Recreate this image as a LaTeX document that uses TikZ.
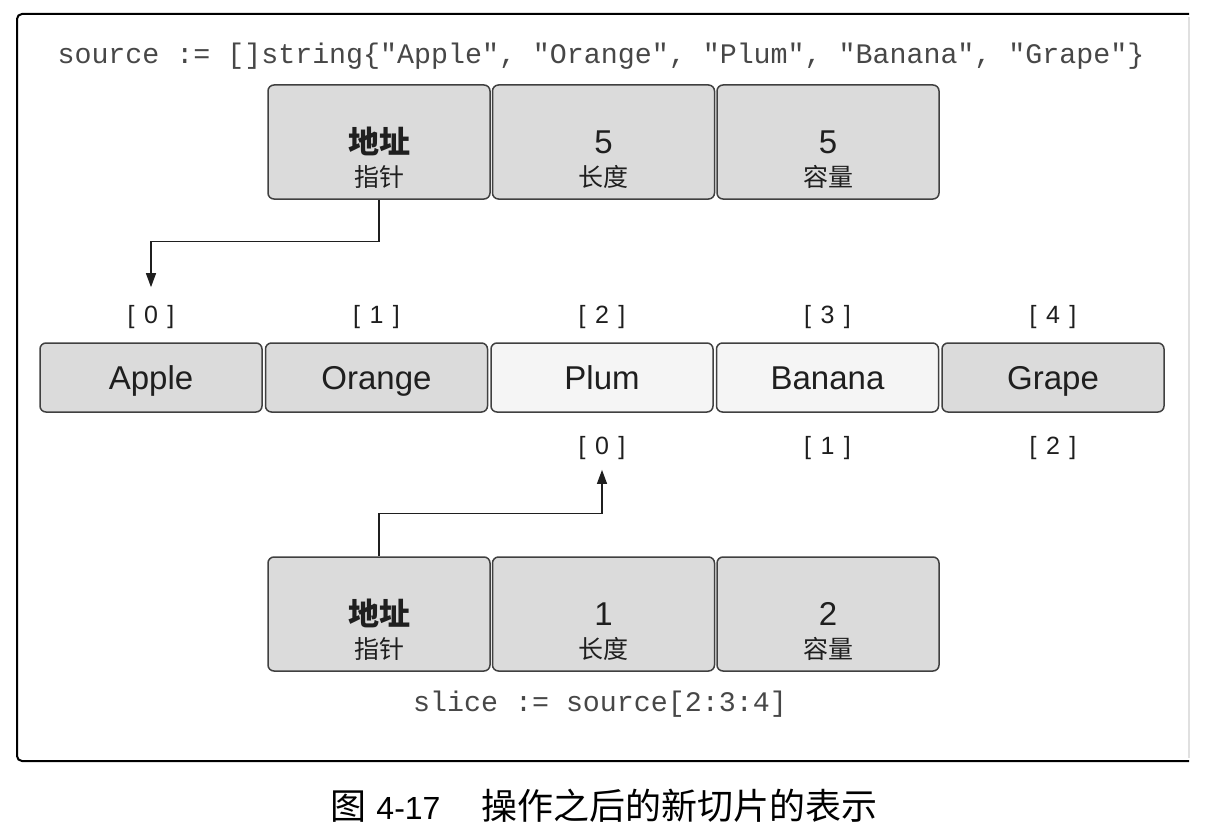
\documentclass[tikz,border=0pt]{standalone}
\usepackage{fontspec}
\setmainfont{Liberation Sans}
\setmonofont{Liberation Mono}
\newfontfamily\cjk{Noto Sans CJK SC}
\usetikzlibrary{positioning,arrows.meta}
\definecolor{gray86}{gray}{0.86}
\definecolor{gray96}{gray}{0.96}
\definecolor{gray25}{gray}{0.25}
\definecolor{ink}{gray}{0.12}
\newcommand{\slotidx}[1]{[\hspace{9.5pt}#1\hspace{9.5pt}]}

\begin{document}
\begin{tikzpicture}
[x=1pt,y=-1pt,node distance=224.5pt,text=ink]
\tikzstyle{slot}=[draw=gray25,fill=gray86,line width=1.5pt,rounded corners=6pt,minimum width=222pt,minimum height=114pt,inner sep=0pt]
\tikzstyle{cell}=[slot,minimum height=69pt,node distance=225.5pt,font=\fontsize{33}{36}\selectfont,text height=23.6pt,text depth=0pt]
\tikzstyle{lit}=[cell,fill=gray96]
\tikzstyle{val}=[inner sep=0pt,anchor=base,yshift=-11pt,font=\fontsize{33}{36}\selectfont]
\tikzstyle{head}=[inner sep=0pt,anchor=base,yshift=-11pt,font=\cjk\bfseries\fontsize{31}{34}\selectfont]
\tikzstyle{sub}=[inner sep=0pt,anchor=base,yshift=-44.5pt,font=\cjk\fontsize{25}{28}\selectfont]
\tikzstyle{idx}=[inner sep=0pt,anchor=base,font=\fontsize{25}{28}\selectfont]
\tikzstyle{idxup}=[idx,yshift=54pt]
\tikzstyle{idxdn}=[idx,yshift=-77pt]
\tikzstyle{code}=[inner sep=0pt,anchor=base,text=black!72,font=\ttfamily\fontsize{28.3}{32}\selectfont]
\tikzstyle{link}=[line width=1.3pt,draw=ink,-{Triangle[length=14pt,width=10pt]}]

\useasboundingbox (0,0) rectangle (1206,824);

% frame
\draw[line width=2pt,rounded corners=5pt] (1189,14) -- (17,14) -- (17,761) -- (1189,761);
\draw[line width=1.5pt,black!12] (1189,17) -- (1189,758);

\node[code] (src) at (601,64) {source := []string\{"Apple", "Orange", "Plum", "Banana", "Grape"\}};

% source slice header
\draw node [slot] (ptrA) at (379,142) {};
\draw node [slot,right of=ptrA] (lenA) {};
\draw node [slot,right of=lenA] (capA) {};
\node[head] (ptrAv) at (ptrA) {地址};
\node[sub] (ptrAs) at (ptrA) {指针};
\node[val] (lenAv) at (lenA) {5};
\node[sub] (lenAs) at (lenA) {长度};
\node[val] (capAv) at (capA) {5};
\node[sub] (capAs) at (capA) {容量};

% backing array
\draw node [cell] (apple) at (151,377.5) {Apple};
\draw node [cell,right of=apple] (orange) {Orange};
\draw node [lit,right of=orange] (plum) {Plum};
\draw node [lit,right of=plum] (banana) {Banana};
\draw node [cell,right of=banana] (grape) {Grape};

\node[idxup] (i0) at (apple) {\slotidx{0}};
\node[idxup] (i1) at (orange) {\slotidx{1}};
\node[idxup] (i2) at (plum) {\slotidx{2}};
\node[idxup] (i3) at (banana) {\slotidx{3}};
\node[idxup] (i4) at (grape) {\slotidx{4}};
\node[idxdn] (j0) at (plum) {\slotidx{0}};
\node[idxdn] (j1) at (banana) {\slotidx{1}};
\node[idxdn] (j2) at (grape) {\slotidx{2}};

% new slice header
\draw node [slot] (ptrB) at (379,614) {};
\draw node [slot,right of=ptrB] (lenB) {};
\draw node [slot,right of=lenB] (capB) {};
\node[head] (ptrBv) at (ptrB) {地址};
\node[sub] (ptrBs) at (ptrB) {指针};
\node[val] (lenBv) at (lenB) {1};
\node[sub] (lenBs) at (lenB) {长度};
\node[val] (capBv) at (capB) {2};
\node[sub] (capBs) at (capB) {容量};

\node[code] (slc) at (600,711) {slice := source[2:3:4]};

\draw[link,shorten >=18pt] (ptrA.south) -- ++(0,42) -| (i0.north);
\draw[link,shorten >=10pt] (ptrB.north) -- ++(0,-43) -| (j0.south);

\node[anchor=base,inner sep=0pt,text=black] (fig) at (604,819)
  {{\cjk\fontsize{36}{40}\selectfont 图}\hspace{10pt}{\fontsize{32}{36}\selectfont 4-17}\hspace{41pt}{\cjk\fontsize{36}{40}\selectfont 操作之后的新切片的表示}};
\end{tikzpicture}
\end{document}
